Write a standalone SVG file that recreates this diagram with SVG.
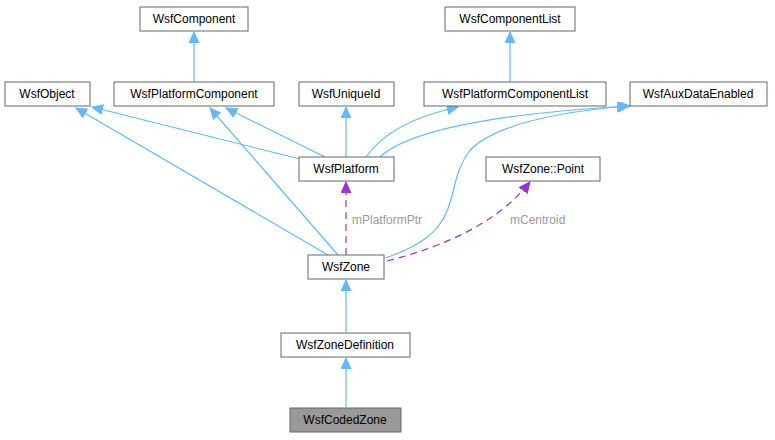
<svg xmlns="http://www.w3.org/2000/svg" width="775" height="440" viewBox="0 0 775 440">
<defs>
<marker id="a" markerWidth="12" markerHeight="12" refX="11" refY="5" orient="auto" markerUnits="userSpaceOnUse"><path d="M0,0 L11,5 L0,10 Z" fill="#63b8ff" stroke="#63b8ff"/></marker>
<marker id="p" markerWidth="12" markerHeight="12" refX="11" refY="5" orient="auto" markerUnits="userSpaceOnUse"><path d="M0,0 L11,5 L0,10 Z" fill="#9a32cd" stroke="#9a32cd"/></marker>
</defs>
<style>
rect{fill:#fff;stroke:#666;stroke-width:1}
text{font-family:"Liberation Sans",Arial,sans-serif;font-size:12px;text-anchor:middle;fill:#000}
.e{fill:none;stroke:#63b8ff;stroke-width:1.2;marker-end:url(#a)}
.d{fill:none;stroke:#9a32cd;stroke-width:1.2;stroke-dasharray:7,5;marker-end:url(#p)}
.l{fill:#9a9a9a;text-anchor:start}
</style>
<rect x="0" y="0" width="775" height="440" style="fill:#fff;stroke:none"/>
<g id="edges">
<path class="e" d="M194,82 V32"/>
<path class="e" d="M510,82 V32"/>
<path class="e" d="M300,159 L92,107"/>
<path class="e" d="M325,157 L226,108"/>
<path class="e" d="M346,157 V107"/>
<path class="e" d="M366,157 C385,130 420,115 458,107"/>
<path class="e" d="M380,157 C420,120 560,110 630,106"/>
<path class="e" d="M328,255 L76,108"/>
<path class="e" d="M338,255 L210,108"/>
<path class="e" d="M385,258 C470,230 440,190 470,150 C500,120 580,110 628,106"/>
<path class="d" d="M346,255 V182"/>
<path class="d" d="M387,261 C450,245 500,220 530,182"/>
<text class="l" x="352" y="224">mPlatformPtr</text>
<text class="l" x="510" y="224">mCentroid</text>
</g>
<g id="n1"><rect x="140" y="7" width="108" height="24"/><text x="194" y="23">WsfComponent</text></g>
<g id="n2"><rect x="445" y="7" width="130" height="24"/><text x="510" y="23">WsfComponentList</text></g>
<g id="n3"><rect x="5" y="82" width="85" height="24"/><text x="47" y="98">WsfObject</text></g>
<g id="n4"><rect x="114" y="82" width="160" height="24"/><text x="194" y="98">WsfPlatformComponent</text></g>
<g id="n5"><rect x="299" y="82" width="95" height="24"/><text x="346" y="98">WsfUniqueId</text></g>
<g id="n6"><rect x="424" y="82" width="182" height="24"/><text x="515" y="98">WsfPlatformComponentList</text></g>
<g id="n7"><rect x="630" y="82" width="137" height="24"/><text x="698" y="98">WsfAuxDataEnabled</text></g>
<g id="n8"><rect x="299" y="157" width="95" height="24"/><text x="346" y="173">WsfPlatform</text></g>
<g id="n9"><rect x="486" y="157" width="114" height="24"/><text x="543" y="173">WsfZone::Point</text></g>
<g id="n10"><rect x="308" y="255" width="76" height="24"/><text x="346" y="271">WsfZone</text></g>
<g id="n11"><rect x="281" y="333" width="129" height="24"/><text x="345" y="349">WsfZoneDefinition</text></g>
<g id="n12"><rect x="290" y="408" width="111" height="24" style="fill:#999"/><text x="345" y="424">WsfCodedZone</text></g>
<g id="edges2">
<path class="e" d="M346,333 V280"/>
<path class="e" d="M346,408 V358"/>
</g>
</svg>
